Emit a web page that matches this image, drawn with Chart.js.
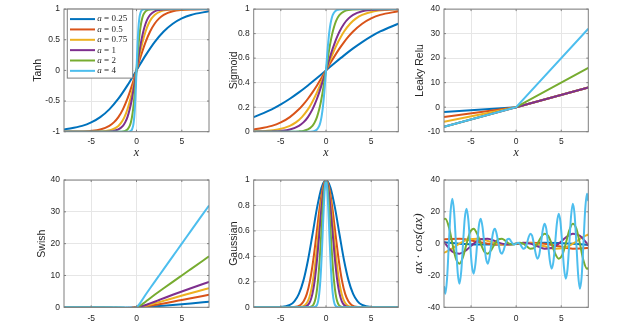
<!DOCTYPE html>
<html>
<head>
<meta charset="utf-8">
<script src="https://cdn.jsdelivr.net/npm/chart.js@4.4.1/dist/chart.umd.min.js"></script>
<style>
  html, body { margin: 0; padding: 0; background: #fff; }
  #fig { position: relative; width: 630px; height: 325px; overflow: hidden; background: #fff; }
  #fig canvas { position: absolute; }
</style>
</head>
<body>
<div id="fig"></div>
<script>
// ---- series names / colours (MATLAB default order) ----
const aLabels = ["0.25", "0.5", "0.75", "1", "2", "4"];
const colors  = ["#0072BD", "#D95319", "#EDB120", "#7E2F8E", "#77AC30", "#4DBEEE"];

// ---- tick labels ----
const xTicks      = [-5, 0, 5];
const tanhTicks   = [-1, -0.5, 0, 0.5, 1];
const sigTicks    = [0, 0.2, 0.4, 0.6, 0.8, 1];
const reluTicks   = [-10, 0, 10, 20, 30, 40];
const swishTicks  = [0, 10, 20, 30, 40];
const gaussTicks  = [0, 0.2, 0.4, 0.6, 0.8, 1];
const cosTicks    = [-40, -20, 0, 20, 40];

// ---- x samples used by the tanh / sigmoid / swish panels (one per a) ----
const xs025 = [-8,-6,-5,-4,-3,-2,-1,0,1,2,3,4,5,6,8];
const xs05  = [-8,-6,-5,-4,-3,-2.5,-2,-1.5,-1,-0.5,0,0.5,1,1.5,2,2.5,3,4,5,6,8];
const xs075 = [-8,-6.667,-5.333,-4,-3.333,-2.667,-2,-1.667,-1.333,-1,-0.667,-0.333,0,0.333,0.667,1,1.333,1.667,2,2.667,3.333,4,5.333,6.667,8];
const xs1   = [-8,-6,-5,-4,-3,-2.5,-2,-1.5,-1.25,-1,-0.75,-0.5,-0.25,0,0.25,0.5,0.75,1,1.25,1.5,2,2.5,3,4,5,6,8];
const xs2   = [-8,-6,-5,-4,-3,-2.5,-2,-1.5,-1.25,-1,-0.75,-0.625,-0.5,-0.375,-0.25,-0.125,0,0.125,0.25,0.375,0.5,0.625,0.75,1,1.25,1.5,2,2.5,3,4,5,6,8];
const xs4   = [-8,-6,-5,-4,-3,-2.5,-2,-1.5,-1.25,-1,-0.75,-0.625,-0.5,-0.375,-0.3125,-0.25,-0.1875,-0.125,-0.0625,0,0.0625,0.125,0.1875,0.25,0.3125,0.375,0.5,0.625,0.75,1,1.25,1.5,2,2.5,3,4,5,6,8];

// ---- Tanh ----
const tanh025 = [-0.964,-0.9051,-0.8483,-0.7616,-0.6351,-0.4621,-0.2449,0,0.2449,0.4621,0.6351,0.7616,0.8483,0.9051,0.964];
const tanh05  = [-0.9993,-0.9951,-0.9866,-0.964,-0.9051,-0.8483,-0.7616,-0.6351,-0.4621,-0.2449,0,0.2449,0.4621,0.6351,0.7616,0.8483,0.9051,0.964,0.9866,0.9951,0.9993];
const tanh075 = [-1,-0.9999,-0.9993,-0.9951,-0.9866,-0.964,-0.9051,-0.8483,-0.7616,-0.6351,-0.4621,-0.2449,0,0.2449,0.4621,0.6351,0.7616,0.8483,0.9051,0.964,0.9866,0.9951,0.9993,0.9999,1];
const tanh1   = [-1,-1,-0.9999,-0.9993,-0.9951,-0.9866,-0.964,-0.9051,-0.8483,-0.7616,-0.6351,-0.4621,-0.2449,0,0.2449,0.4621,0.6351,0.7616,0.8483,0.9051,0.964,0.9866,0.9951,0.9993,0.9999,1,1];
const tanh2   = [-1,-1,-1,-1,-1,-0.9999,-0.9993,-0.9951,-0.9866,-0.964,-0.9051,-0.8483,-0.7616,-0.6351,-0.4621,-0.2449,0,0.2449,0.4621,0.6351,0.7616,0.8483,0.9051,0.964,0.9866,0.9951,0.9993,0.9999,1,1,1,1,1];
const tanh4   = [-1,-1,-1,-1,-1,-1,-1,-1,-0.9999,-0.9993,-0.9951,-0.9866,-0.964,-0.9051,-0.8483,-0.7616,-0.6351,-0.4621,-0.2449,0,0.2449,0.4621,0.6351,0.7616,0.8483,0.9051,0.964,0.9866,0.9951,0.9993,0.9999,1,1,1,1,1,1,1,1];

// ---- Sigmoid ----
const sig025 = [0.1192,0.1824,0.2227,0.2689,0.3208,0.3775,0.4378,0.5,0.5622,0.6225,0.6792,0.7311,0.7773,0.8176,0.8808];
const sig05  = [0.018,0.0474,0.0759,0.1192,0.1824,0.2227,0.2689,0.3208,0.3775,0.4378,0.5,0.5622,0.6225,0.6792,0.7311,0.7773,0.8176,0.8808,0.9241,0.9526,0.982];
const sig075 = [0.0025,0.0067,0.018,0.0474,0.0759,0.1192,0.1824,0.2227,0.2689,0.3208,0.3775,0.4378,0.5,0.5622,0.6225,0.6792,0.7311,0.7773,0.8176,0.8808,0.9241,0.9526,0.982,0.9933,0.9975];
const sig1   = [0.0003,0.0025,0.0067,0.018,0.0474,0.0759,0.1192,0.1824,0.2227,0.2689,0.3208,0.3775,0.4378,0.5,0.5622,0.6225,0.6792,0.7311,0.7773,0.8176,0.8808,0.9241,0.9526,0.982,0.9933,0.9975,0.9997];
const sig2   = [0,0,0,0.0003,0.0025,0.0067,0.018,0.0474,0.0759,0.1192,0.1824,0.2227,0.2689,0.3208,0.3775,0.4378,0.5,0.5622,0.6225,0.6792,0.7311,0.7773,0.8176,0.8808,0.9241,0.9526,0.982,0.9933,0.9975,0.9997,1,1,1];
const sig4   = [0,0,0,0,0,0,0.0003,0.0025,0.0067,0.018,0.0474,0.0759,0.1192,0.1824,0.2227,0.2689,0.3208,0.3775,0.4378,0.5,0.5622,0.6225,0.6792,0.7311,0.7773,0.8176,0.8808,0.9241,0.9526,0.982,0.9933,0.9975,0.9997,1,1,1,1,1,1];

// ---- Leaky Relu ----
const reluX   = [-8, 0, 8];
const relu025 = [-2, 0, 8];
const relu05  = [-4, 0, 8];
const relu075 = [-6, 0, 8];
const relu1   = [-8, 0, 8];
const relu2   = [-8, 0, 16];
const relu4   = [-8, 0, 32];

// ---- Swish ----
const sw025 = [-0.2384,-0.2736,-0.2784,-0.2689,-0.2406,-0.1888,-0.1094,0,0.1406,0.3112,0.5094,0.7311,0.9716,1.2264,1.7616];
const sw05  = [-0.0719,-0.1423,-0.1897,-0.2384,-0.2736,-0.2784,-0.2689,-0.2406,-0.1888,-0.1094,0,0.1406,0.3112,0.5094,0.7311,0.9716,1.2264,1.7616,2.3103,2.8577,3.9281];
const sw075 = [-0.0148,-0.0335,-0.0719,-0.1423,-0.1897,-0.2384,-0.2736,-0.2784,-0.2689,-0.2406,-0.1888,-0.1094,0,0.1406,0.3112,0.5094,0.7311,0.9716,1.2264,1.7616,2.3103,2.8577,3.9281,4.9665,5.9852];
const sw1   = [-0.0027,-0.0148,-0.0335,-0.0719,-0.1423,-0.1897,-0.2384,-0.2736,-0.2784,-0.2689,-0.2406,-0.1888,-0.1094,0,0.1406,0.3112,0.5094,0.7311,0.9716,1.2264,1.7616,2.3103,2.8577,3.9281,4.9665,5.9852,7.9973];
const sw2   = [0,-0.0001,-0.0005,-0.0027,-0.0148,-0.0335,-0.0719,-0.1423,-0.1897,-0.2384,-0.2736,-0.2784,-0.2689,-0.2406,-0.1888,-0.1094,0,0.1406,0.3112,0.5094,0.7311,0.9716,1.2264,1.7616,2.3103,2.8577,3.9281,4.9665,5.9852,7.9973,9.9995,12,16];
const sw4   = [0,0,0,0,-0.0001,-0.0005,-0.0027,-0.0148,-0.0335,-0.0719,-0.1423,-0.1897,-0.2384,-0.2736,-0.2784,-0.2689,-0.2406,-0.1888,-0.1094,0,0.1406,0.3112,0.5094,0.7311,0.9716,1.2264,1.7616,2.3103,2.8577,3.9281,4.9665,5.9852,7.9973,9.9995,12,16,20,24,32];

// ---- Gaussian (samples taken at the same heights on every curve) ----
const gx025 = [-8,-6,-5,-4,-3.5,-3,-2.5,-2,-1.5,-1,-0.5,0,0.5,1,1.5,2,2.5,3,3.5,4,5,6,8];
const gx05  = [-8,-4.243,-3.536,-2.828,-2.475,-2.121,-1.768,-1.414,-1.061,-0.707,-0.354,0,0.354,0.707,1.061,1.414,1.768,2.121,2.475,2.828,3.536,4.243,8];
const gx075 = [-8,-3.464,-2.887,-2.309,-2.021,-1.732,-1.443,-1.155,-0.866,-0.577,-0.289,0,0.289,0.577,0.866,1.155,1.443,1.732,2.021,2.309,2.887,3.464,8];
const gx1   = [-8,-3,-2.5,-2,-1.75,-1.5,-1.25,-1,-0.75,-0.5,-0.25,0,0.25,0.5,0.75,1,1.25,1.5,1.75,2,2.5,3,8];
const gx2   = [-8,-2.121,-1.768,-1.414,-1.237,-1.061,-0.884,-0.707,-0.53,-0.354,-0.177,0,0.177,0.354,0.53,0.707,0.884,1.061,1.237,1.414,1.768,2.121,8];
const gx4   = [-8,-1.5,-1.25,-1,-0.875,-0.75,-0.625,-0.5,-0.375,-0.25,-0.125,0,0.125,0.25,0.375,0.5,0.625,0.75,0.875,1,1.25,1.5,8];
const gaussY = [0,0.0001,0.0019,0.0183,0.0468,0.1054,0.2096,0.3679,0.5698,0.7788,0.9394,1,0.9394,0.7788,0.5698,0.3679,0.2096,0.1054,0.0468,0.0183,0.0019,0.0001,0];

// ---- ax * cos(ax) ----
const cx025 = [-8,-6.283,-3.142,0,3.142,6.283,8];
const cy025 = [0.832,0,-0.555,0,0.555,0,-0.832];
const cx05  = [-8,-7.854,-6.283,-4.712,-3.142,-1.571,0,1.571,3.142,4.712,6.283,7.854,8];
const cy05  = [2.615,2.777,3.142,1.666,0,-0.555,0,0.555,0,-1.666,-3.142,-2.777,-2.615];
const cx075 = [-8,-7.33,-6.283,-5.236,-4.189,-3.142,-2.094,-1.047,0,1.047,2.094,3.142,4.189,5.236,6.283,7.33,8];
const cy075 = [-5.761,-3.887,0,2.777,3.142,1.666,0,-0.555,0,0.555,0,-1.666,-3.142,-2.777,0,3.887,5.761];
const cx1   = [-8,-7.854,-7.069,-6.283,-5.498,-4.712,-3.927,-3.142,-2.356,-1.571,-0.785,0,0.785,1.571,2.356,3.142,3.927,4.712,5.498,6.283,7.069,7.854,8];
const cy1   = [1.164,0,-4.998,-6.283,-3.887,0,2.777,3.142,1.666,0,-0.555,0,0.555,0,-1.666,-3.142,-2.777,0,3.887,6.283,4.998,0,-1.164];
const cx2   = [-8,-7.854,-7.461,-7.069,-6.676,-6.283,-5.89,-5.498,-5.105,-4.712,-4.32,-3.927,-3.534,-3.142,-2.749,-2.356,-1.963,-1.571,-1.178,-0.785,-0.393,0,
               0.393,0.785,1.178,1.571,1.963,2.356,2.749,3.142,3.534,3.927,4.32,4.712,5.105,5.498,5.89,6.283,6.676,7.069,7.461,7.854,8];
const cy2   = [15.32,15.708,10.552,0,-9.441,-12.566,-8.33,0,7.22,9.425,6.109,0,-4.998,-6.283,-3.887,0,2.777,3.142,1.666,0,-0.555,0,
               0.555,0,-1.666,-3.142,-2.777,0,3.887,6.283,4.998,0,-6.109,-9.425,-7.22,0,8.33,12.566,9.441,0,-10.552,-15.708,-15.32];
const cx4   = [-8,-7.854,-7.658,-7.461,-7.265,-7.069,-6.872,-6.676,-6.48,-6.283,-6.087,-5.89,-5.694,-5.498,-5.301,-5.105,-4.909,-4.712,-4.516,-4.32,-4.123,
               -3.927,-3.731,-3.534,-3.338,-3.142,-2.945,-2.749,-2.553,-2.356,-2.16,-1.963,-1.767,-1.571,-1.374,-1.178,-0.982,-0.785,-0.589,-0.393,-0.196,0,
               0.196,0.393,0.589,0.785,0.982,1.178,1.374,1.571,1.767,1.963,2.16,2.356,2.553,2.749,2.945,3.142,3.338,3.534,3.731,3.927,
               4.123,4.32,4.516,4.712,4.909,5.105,5.301,5.498,5.694,5.89,6.087,6.283,6.48,6.676,6.872,7.069,7.265,7.461,7.658,7.854,8];
const cy4   = [-26.7,-31.416,-21.659,0,20.549,28.274,19.438,0,-18.327,-25.133,-17.216,0,16.106,21.991,14.995,0,-13.884,-18.85,-12.773,0,11.662,
               15.708,10.552,0,-9.441,-12.566,-8.33,0,7.22,9.425,6.109,0,-4.998,-6.283,-3.887,0,2.777,3.142,1.666,0,-0.555,0,
               0.555,0,-1.666,-3.142,-2.777,0,3.887,6.283,4.998,0,-6.109,-9.425,-7.22,0,8.33,12.566,9.441,0,-10.552,-15.708,
               -11.662,0,12.773,18.85,13.884,0,-14.995,-21.991,-16.106,0,17.216,25.133,18.327,0,-19.438,-28.274,-20.549,0,21.659,31.416,26.7];

// ---- look ----
const textColor = "#262626";
const axisColor = "#7f7f7f";
const gridColor = "#e6e6e6";
Chart.defaults.font.family = "'Liberation Sans', Arial, sans-serif";
Chart.defaults.color = textColor;

// box round the plot area + small inward ticks (MATLAB style)
const framePlugin = {
    id: "frame",
    afterDatasetsDraw(chart) {
        const { ctx, chartArea: a, scales } = chart;
        ctx.save();
        ctx.strokeStyle = axisColor;
        ctx.lineWidth = 1;
        ctx.beginPath();
        scales.x.ticks.forEach(t => {
            const px = scales.x.getPixelForValue(t.value);
            ctx.moveTo(px, a.bottom); ctx.lineTo(px, a.bottom - 2);
            ctx.moveTo(px, a.top);    ctx.lineTo(px, a.top + 2);
        });
        scales.y.ticks.forEach(t => {
            const py = scales.y.getPixelForValue(t.value);
            ctx.moveTo(a.left, py);  ctx.lineTo(a.left + 2, py);
            ctx.moveTo(a.right, py); ctx.lineTo(a.right - 2, py);
        });
        ctx.stroke();
        ctx.strokeRect(a.left, a.top, a.right - a.left, a.bottom - a.top);
        ctx.restore();
    }
};

// legend box inside the first panel
const legendPlugin = {
    id: "inLegend",
    afterDraw(chart) {
        const { ctx, chartArea: a } = chart;
        const x0 = a.left + 3.3, y0 = a.top, w = 65.4, h = 69;
        ctx.save();
        ctx.fillStyle = "#fff";
        ctx.fillRect(x0, y0, w, h);
        ctx.strokeStyle = axisColor;
        ctx.lineWidth = 1;
        ctx.strokeRect(x0, y0, w, h);
        ctx.textBaseline = "middle";
        aLabels.forEach((lab, i) => {
            const ly = y0 + 10 + i * 10.35;
            ctx.strokeStyle = colors[i];
            ctx.lineWidth = 2;
            ctx.beginPath();
            ctx.moveTo(x0 + 2.7, ly);
            ctx.lineTo(x0 + 27.7, ly);
            ctx.stroke();
            ctx.fillStyle = textColor;
            ctx.font = "italic 9px 'Liberation Serif', serif";
            ctx.fillText("a", x0 + 30, ly);
            const aw = ctx.measureText("a").width;
            ctx.font = "9px 'Liberation Serif', serif";
            ctx.fillText(" = " + lab, x0 + 30 + aw, ly);
        });
        ctx.restore();
    }
};

// ---- the six panels ----
const panels = [
    { left: 32,  top: 0,   w: 183, h: 162, plot: [64, 5, 209, 131.7],      yMin: -1,  yMax: 1,  yTicks: tanhTicks,  title: "Tanh",
      xs: [xs025, xs05, xs075, xs1, xs2, xs4], ys: [tanh025, tanh05, tanh075, tanh1, tanh2, tanh4], legend: true, xTitle: true },
    { left: 228, top: 0,   w: 176, h: 162, plot: [253.7, 5, 398.3, 131.7], yMin: 0,   yMax: 1,  yTicks: sigTicks,   title: "Sigmoid",
      xs: [xs025, xs05, xs075, xs1, xs2, xs4], ys: [sig025, sig05, sig075, sig1, sig2, sig4], xTitle: true },
    { left: 414, top: 0,   w: 181, h: 162, plot: [444, 5, 588.3, 131.7],   yMin: -10, yMax: 40, yTicks: reluTicks,  title: "Leaky Relu",
      xs: [reluX, reluX, reluX, reluX, reluX, reluX], ys: [relu025, relu05, relu075, relu1, relu2, relu4], straight: true, xTitle: true },
    { left: 36,  top: 165, w: 179, h: 160, plot: [64, 180, 209, 307.3],    yMin: 0,   yMax: 40, yTicks: swishTicks, title: "Swish",
      xs: [xs025, xs05, xs075, xs1, xs2, xs4], ys: [sw025, sw05, sw075, sw1, sw2, sw4] },
    { left: 228, top: 165, w: 176, h: 160, plot: [253.7, 180, 398.3, 307.3], yMin: 0, yMax: 1,  yTicks: gaussTicks, title: "Gaussian",
      xs: [gx025, gx05, gx075, gx1, gx2, gx4], ys: [gaussY, gaussY, gaussY, gaussY, gaussY, gaussY] },
    { left: 411, top: 165, w: 184, h: 160, plot: [444, 180, 588.3, 307.3], yMin: -40, yMax: 40, yTicks: cosTicks,   title: "ax \u00b7 cos(ax)",
      titleFont: { family: "'Liberation Serif', serif", style: "italic", size: 13 },
      xs: [cx025, cx05, cx075, cx1, cx2, cx4], ys: [cy025, cy05, cy075, cy1, cy2, cy4] }
];

const fig = document.getElementById("fig");

panels.forEach(p => {
    const cv = document.createElement("canvas");
    cv.width = p.w;
    cv.height = p.h;
    cv.style.left = p.left + "px";
    cv.style.top = p.top + "px";
    cv.style.width = p.w + "px";
    cv.style.height = p.h + "px";
    fig.appendChild(cv);

    const yW = p.plot[0] - p.left;
    const xH = p.top + p.h - p.plot[3];

    const datasets = p.ys.map((ys, i) => ({
        label: "a = " + aLabels[i],
        data: p.xs[i].map((x, j) => ({ x: x, y: ys[j] })),
        borderColor: colors[i],
        backgroundColor: colors[i],
        borderWidth: 2,
        pointRadius: 0,
        fill: false,
        tension: 0,
        cubicInterpolationMode: p.straight ? "default" : "monotone",
        order: 6 - i   // last series on top, like MATLAB
    }));

    const plugins = [framePlugin];
    if (p.legend) plugins.push(legendPlugin);

    new Chart(cv, {
        type: "line",
        data: { datasets: datasets },
        options: {
            responsive: false,
            animation: false,
            devicePixelRatio: 1,
            layout: {
                padding: { left: 0, top: p.plot[1] - p.top, right: p.left + p.w - p.plot[2], bottom: 0 }
            },
            plugins: {
                legend: { display: false },
                tooltip: { enabled: false }
            },
            scales: {
                x: {
                    type: "linear",
                    min: -8,
                    max: 8,
                    afterBuildTicks: s => { s.ticks = xTicks.map(v => ({ value: v })); },
                    afterFit: s => { s.height = xH; },
                    grid: { color: gridColor, drawTicks: false },
                    border: { display: false },
                    ticks: { padding: p.xTitle ? 5 : 6.5, maxRotation: 0, font: { size: 8.5 }, color: textColor, callback: v => String(v) },
                    title: {
                        display: !!p.xTitle,
                        text: "x",
                        color: textColor,
                        font: { family: "'Liberation Serif', serif", style: "italic", size: 12 },
                        padding: { top: 0, bottom: 1.5 }
                    }
                },
                y: {
                    type: "linear",
                    min: p.yMin,
                    max: p.yMax,
                    afterBuildTicks: s => { s.ticks = p.yTicks.map(v => ({ value: v })); },
                    afterFit: s => { s.width = yW; },
                    grid: { color: gridColor, drawTicks: false },
                    border: { display: false },
                    ticks: { padding: 4, font: { size: 8.5 }, color: textColor, callback: v => String(v) },
                    title: {
                        display: true,
                        text: p.title,
                        color: textColor,
                        font: p.titleFont || { size: 10.5 },
                        padding: { top: 0, bottom: 0 }
                    }
                }
            }
        },
        plugins: plugins
    });
});
</script>
</body>
</html>
